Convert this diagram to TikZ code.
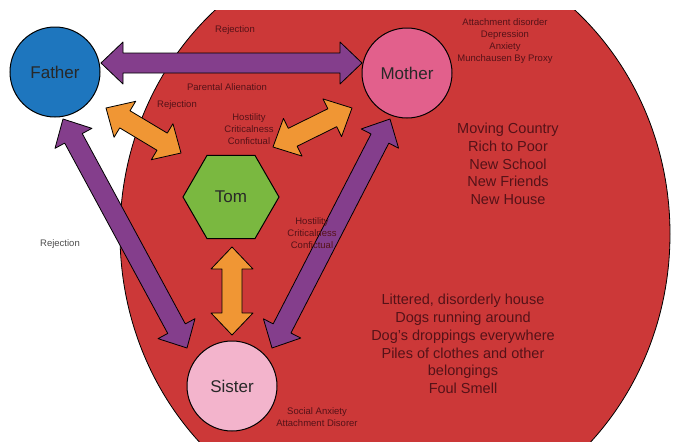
\documentclass[tikz,border=0pt]{standalone}
\usepackage{fontspec}
\setmainfont{Liberation Sans}
\usetikzlibrary{calc,shapes.geometric}

\definecolor{bigred}{RGB}{204,56,56}
\definecolor{arrpurple}{RGB}{132,62,140}
\definecolor{arrorange}{RGB}{240,150,52}
\definecolor{fathercol}{RGB}{30,118,190}
\definecolor{mothercol}{RGB}{226,96,140}
\definecolor{sistercol}{RGB}{243,180,204}
\definecolor{tomcol}{RGB}{122,184,64}
\definecolor{notetext}{RGB}{85,18,24}
\definecolor{nodetext}{RGB}{40,40,40}

\begin{document}
\begin{tikzpicture}[x=1pt,y=-1pt,
	person/.style={circle,draw=black,line width=1pt,minimum size=90pt,inner sep=0pt,text=nodetext,font=\fontsize{17}{20}\selectfont},
	note/.style={align=center,text=notetext,font=\fontsize{9.5}{12}\selectfont},
	bignote/.style={align=center,text=notetext,font=\fontsize{14.5}{17.8}\selectfont},
	blockarrow/.style={draw=black,line width=0.8pt,line join=round}]

\useasboundingbox (0,0) rectangle (673,442);

\begin{scope}
\clip (0,10) rectangle (673,442);
\filldraw[fill=bigred,draw=black,line width=0.8pt] (395,234) ellipse [x radius=275, y radius=296];
\end{scope}

\node[person,fill=fathercol] (father) at (55,72) {Father};
\node[person,fill=mothercol] (mother) at (407,73) {Mother};
\node[person,fill=sistercol] (sister) at (232,386) {Sister};
\node[regular polygon,regular polygon sides=6,draw=black,line width=1pt,fill=tomcol,minimum size=96pt,inner sep=0pt,text=nodetext,font=\fontsize{17}{20}\selectfont] (tom) at (231,197) {Tom};

% arrow ends
\coordinate (fm-a) at ([shift={(46,-9)}]father.center);
\coordinate (fm-b) at ([shift={(-45,-10)}]mother.center);
\coordinate (fs-a) at ([shift={(8,47)}]father.center);
\coordinate (fs-b) at ([shift={(-45,-38)}]sister.center);
\coordinate (ms-a) at ([shift={(-17,46)}]mother.center);
\coordinate (ms-b) at ([shift={(40,-38)}]sister.center);
\coordinate (tf-a) at ([shift={(51,36)}]father.center);
\coordinate (tf-b) at ([shift={(-50,-44)}]tom.center);
\coordinate (tm-a) at ([shift={(42,-50)}]tom.center);
\coordinate (tm-b) at ([shift={(-55,35)}]mother.center);
\coordinate (ts-a) at ([shift={(1,50)}]tom.center);
\coordinate (ts-b) at ([shift={(0,-51)}]sister.center);

\foreach \a/\b/\col in {fm-a/fm-b/arrpurple, fs-a/fs-b/arrpurple, ms-a/ms-b/arrpurple,
	tf-a/tf-b/arrorange, tm-a/tm-b/arrorange, ts-a/ts-b/arrorange} {
	\filldraw[blockarrow,fill=\col] (\a)
		-- ($(\a)!22pt!(\b)!21pt!90:(\b)$) -- ($(\a)!22pt!(\b)!10pt!90:(\b)$)
		-- ($(\b)!22pt!(\a)!10pt!-90:(\a)$) -- ($(\b)!22pt!(\a)!21pt!-90:(\a)$)
		-- (\b)
		-- ($(\b)!22pt!(\a)!21pt!90:(\a)$) -- ($(\b)!22pt!(\a)!10pt!90:(\a)$)
		-- ($(\a)!22pt!(\b)!10pt!-90:(\b)$) -- ($(\a)!22pt!(\b)!21pt!-90:(\b)$)
		-- cycle;
}

\node[note] (rej-top) at (235,30) {Rejection};
\node[note] (alien) at (227,87) {Parental Alienation};
\node[note] (rej-mid) at (177,105) {Rejection};
\node[note] (host-up) at (249,129) {Hostility\\Criticalness\\Confictual};
\node[note] (mother-note) at (505,41) {Attachment disorder\\Depression\\Anxiety\\Munchausen By Proxy};
\node[bignote] (moves) at (508,164) {Moving Country\\Rich to Poor\\New School\\New Friends\\New House};
\node[note] (host-low) at (312,233) {Hostility\\Criticalness\\Confictual};
\node[note,text=black!70] (rej-left) at (60,244) {Rejection};
\node[bignote] (house) at (463,344) {Littered, disorderly house\\Dogs running around\\Dog's droppings everywhere\\Piles of clothes and other\\belongings\\Foul Smell};
\node[note] (sister-note) at (317,417) {Social Anxiety\\Attachment Disorer};

\end{tikzpicture}
\end{document}
